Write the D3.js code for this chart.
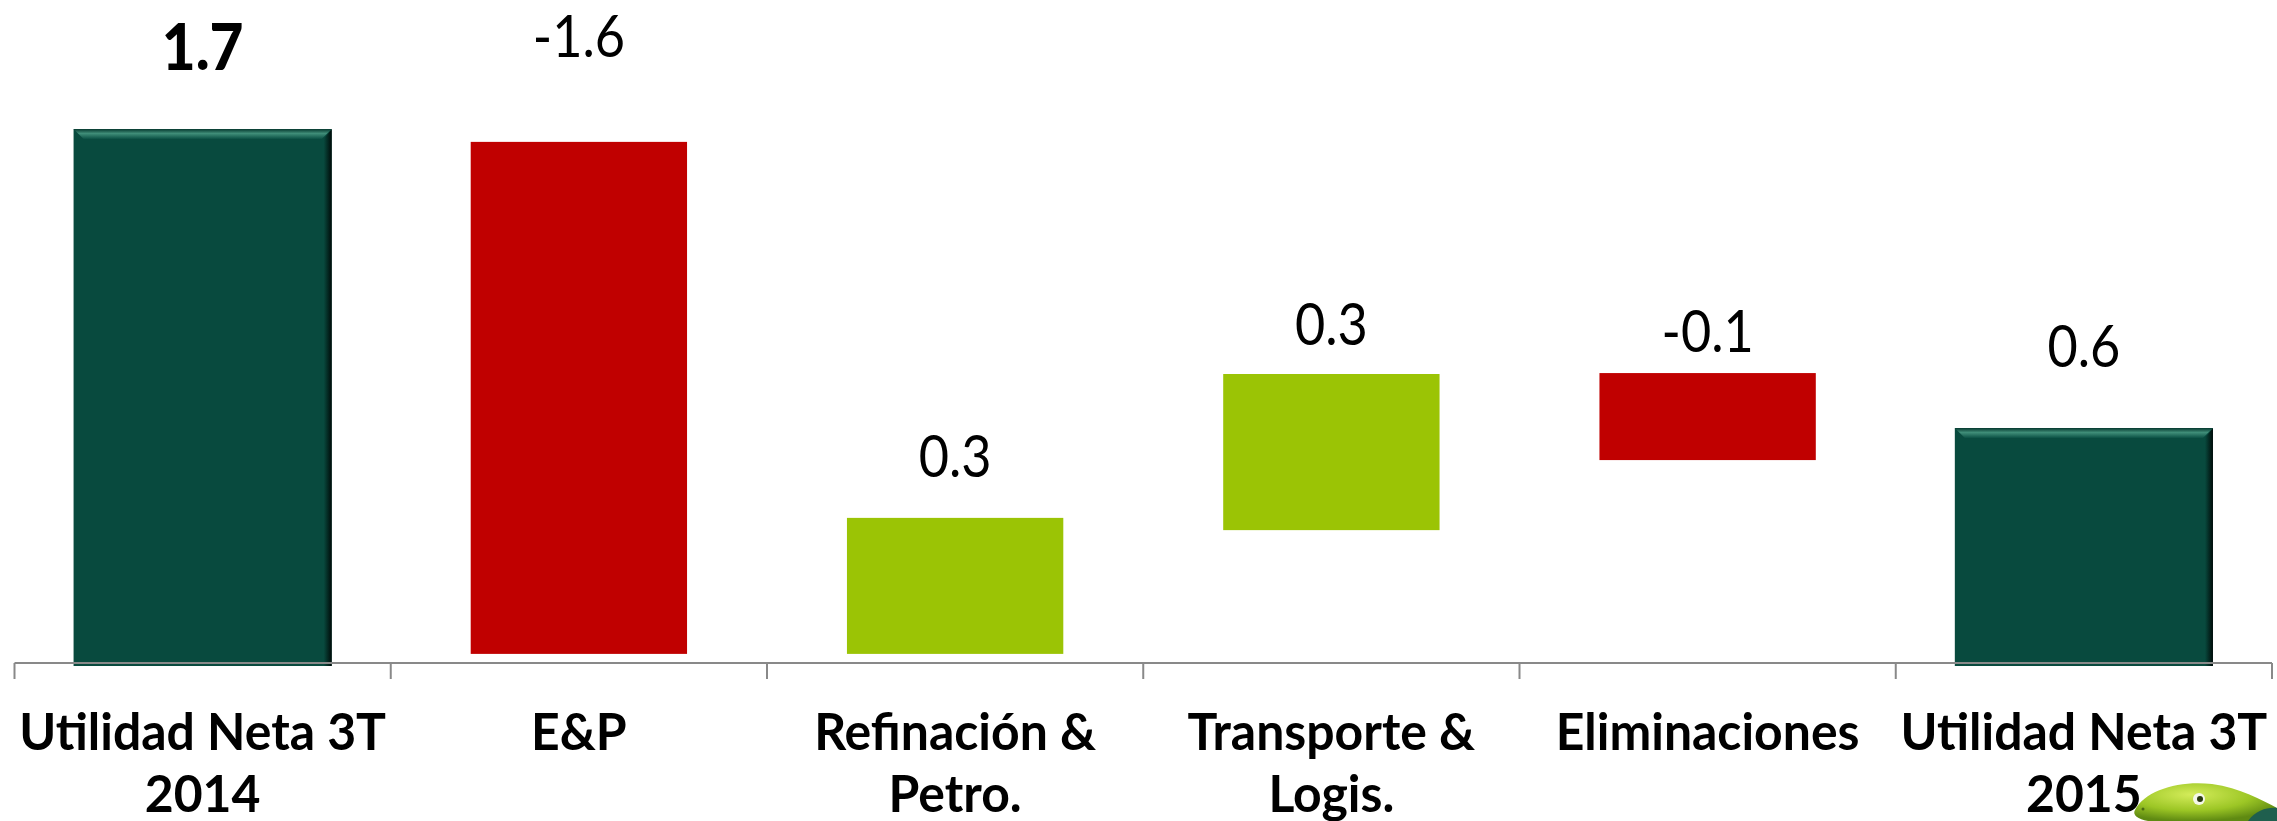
<!DOCTYPE html>
<html>
<head>
<meta charset="utf-8">
<title>Utilidad Neta 3T 2014 vs 3T 2015</title>
<style>
  html, body { margin: 0; padding: 0; background: #fff; }
  svg { display: block; }
  text { font-family: Lato, "Open Sans", sans-serif; fill: #000; }
  .cat { font-weight: bold; font-size: 52px; }
  .val { font-size: 58px; }
  .val.total-first { font-weight: 900; font-size: 65px; }
</style>
</head>
<body>
<svg width="2277" height="821"></svg>
<script src="https://cdn.jsdelivr.net/npm/d3@7"></script>
<script>
// categories and their two-line labels
var categories = ['u2014', 'ep', 'refin', 'transp', 'elim', 'u2015'];
var catLines = [
  ['Utilidad Neta 3T', '2014'],
  ['E&P'],
  ['Refinación &', 'Petro.'],
  ['Transporte &', 'Logis.'],
  ['Eliminaciones'],
  ['Utilidad Neta 3T', '2015']
];
// printed values
var valueLabels = ['1.7', '-1.6', '0.3', '0.3', '-0.1', '0.6'];
// bar kind: total / negative / positive
var kinds = ['total', 'neg', 'pos', 'pos', 'neg', 'total'];
// bar extents as drawn (chart units, axis = 0, first bar = 1.7)
var barLow  = [0, 0.029, 0.029, 0.423, 0.646, 0];
var barHigh = [1.7, 1.659, 0.462, 0.920, 0.923, 0.748];

// layout
var width = 2277, height = 821;
var axisY = 663, topY = 129;
var labelGap = [59, 85, 41, 29, 21, 61]; // px between bar top and label baseline
var widthFrac = { total: 0.686, neg: 0.575, pos: 0.575 };
var colors = { total: '#084A3E', neg: '#C00000', pos: '#9BC405' };
var bevel = 10;

var svg = d3.select('svg');

var x = d3.scaleBand().domain(categories).range([14.5, 2272]).paddingInner(0).paddingOuter(0);
var y = d3.scaleLinear().domain([0, 1.7]).range([axisY, topY]);

var defs = svg.append('defs');
var gTop = defs.append('linearGradient').attr('id', 'bevelTop')
  .attr('x1', 0).attr('y1', 0).attr('x2', 0).attr('y2', 1);
gTop.append('stop').attr('offset', '0%').attr('stop-color', '#06392f');
gTop.append('stop').attr('offset', '45%').attr('stop-color', '#3f8d78');
gTop.append('stop').attr('offset', '100%').attr('stop-color', '#0b5044');
var gRight = defs.append('linearGradient').attr('id', 'bevelRight')
  .attr('x1', 0).attr('y1', 0).attr('x2', 1).attr('y2', 0);
gRight.append('stop').attr('offset', '0%').attr('stop-color', '#084A3E');
gRight.append('stop').attr('offset', '100%').attr('stop-color', '#000a08');
var gLiz = defs.append('radialGradient').attr('id', 'liz')
  .attr('cx', '40%').attr('cy', '30%').attr('r', '70%');
gLiz.append('stop').attr('offset', '0%').attr('stop-color', '#d4ec5a');
gLiz.append('stop').attr('offset', '60%').attr('stop-color', '#9cc625');
gLiz.append('stop').attr('offset', '100%').attr('stop-color', '#5f8a12');

var data = categories.map(function(c, i) {
  return { cat: c, kind: kinds[i], lo: barLow[i], hi: barHigh[i], label: valueLabels[i], gap: labelGap[i], lines: catLines[i] };
});

function barX(d) { return x(d.cat) + x.bandwidth() * (1 - widthFrac[d.kind]) / 2; }
function barW(d) { return x.bandwidth() * widthFrac[d.kind]; }
function barBottom(d) { return y(d.lo) + (d.kind === 'total' ? 3 : 0); }

// bars
var bars = svg.append('g').selectAll('g').data(data).enter().append('g');
bars.append('rect')
  .attr('x', barX)
  .attr('y', function(d) { return y(d.hi); })
  .attr('width', barW)
  .attr('height', function(d) { return barBottom(d) - y(d.hi); })
  .attr('fill', function(d) { return colors[d.kind]; });

// bevel on the total bars
var totals = bars.filter(function(d) { return d.kind === 'total'; });
totals.append('path')
  .attr('fill', 'url(#bevelRight)')
  .attr('d', function(d) {
    var x1 = barX(d) + barW(d), t = y(d.hi), b = barBottom(d);
    return 'M' + x1 + ',' + t + 'L' + x1 + ',' + b + 'L' + (x1 - 8) + ',' + b + 'L' + (x1 - 8) + ',' + (t + bevel) + 'Z';
  });
totals.append('path')
  .attr('fill', 'url(#bevelTop)')
  .attr('d', function(d) {
    var x0 = barX(d), x1 = x0 + barW(d), t = y(d.hi);
    return 'M' + x0 + ',' + t + 'L' + x1 + ',' + t + 'L' + (x1 - bevel) + ',' + (t + bevel) + 'L' + (x0 + bevel) + ',' + (t + bevel) + 'Z';
  });

// axis line with ticks at the band edges
var axis = svg.append('g').attr('stroke', '#898989').attr('stroke-width', 2);
axis.append('line')
  .attr('x1', x.range()[0]).attr('x2', x.range()[1])
  .attr('y1', axisY).attr('y2', axisY);
var edges = categories.map(function(c) { return x(c); }).concat([x.range()[1]]);
axis.selectAll('.tick').data(edges).enter().append('line')
  .attr('class', 'tick')
  .attr('x1', function(d) { return d; }).attr('x2', function(d) { return d; })
  .attr('y1', axisY).attr('y2', axisY + 16);

// value labels
svg.append('g').selectAll('text').data(data).enter().append('text')
  .attr('class', function(d, i) { return i === 0 ? 'val total-first' : 'val'; })
  .attr('text-anchor', 'middle')
  .attr('transform', function(d) {
    return 'translate(' + (x(d.cat) + x.bandwidth() / 2) + ',' + (y(d.hi) - d.gap) + ') scale(0.9,1)';
  })
  .text(function(d) { return d.label; });

// category labels
var cats = svg.append('g').selectAll('text').data(data).enter().append('text')
  .attr('class', 'cat')
  .attr('text-anchor', 'middle')
  .attr('transform', function(d) {
    return 'translate(' + (x(d.cat) + x.bandwidth() / 2) + ',750) scale(0.96,1)';
  });
cats.selectAll('tspan').data(function(d) { return d.lines; }).enter().append('tspan')
  .attr('x', 0)
  .attr('dy', function(d, i) { return i === 0 ? 0 : 62; })
  .text(function(d) { return d; });

// little mascot peeking in at the bottom right corner
var liz = svg.append('g');
liz.append('path')
  .attr('fill', 'url(#liz)')
  .attr('d', 'M2135,810 C2145,790 2180,780 2212,784 C2240,788 2262,800 2277,808 L2277,821 L2148,821 C2138,819 2132,815 2135,810 Z');
liz.append('path')
  .attr('fill', '#1f5f4e')
  .attr('d', 'M2248,821 C2256,810 2268,807 2277,808 L2277,821 Z');
liz.append('circle').attr('cx', 2199).attr('cy', 799).attr('r', 6).attr('fill', '#f4f7e8');
liz.append('circle').attr('cx', 2200).attr('cy', 799).attr('r', 3).attr('fill', '#2a3a10');
liz.append('circle').attr('cx', 2143).attr('cy', 809).attr('r', 1.5).attr('fill', '#4a6a10');
</script>
</body>
</html>
